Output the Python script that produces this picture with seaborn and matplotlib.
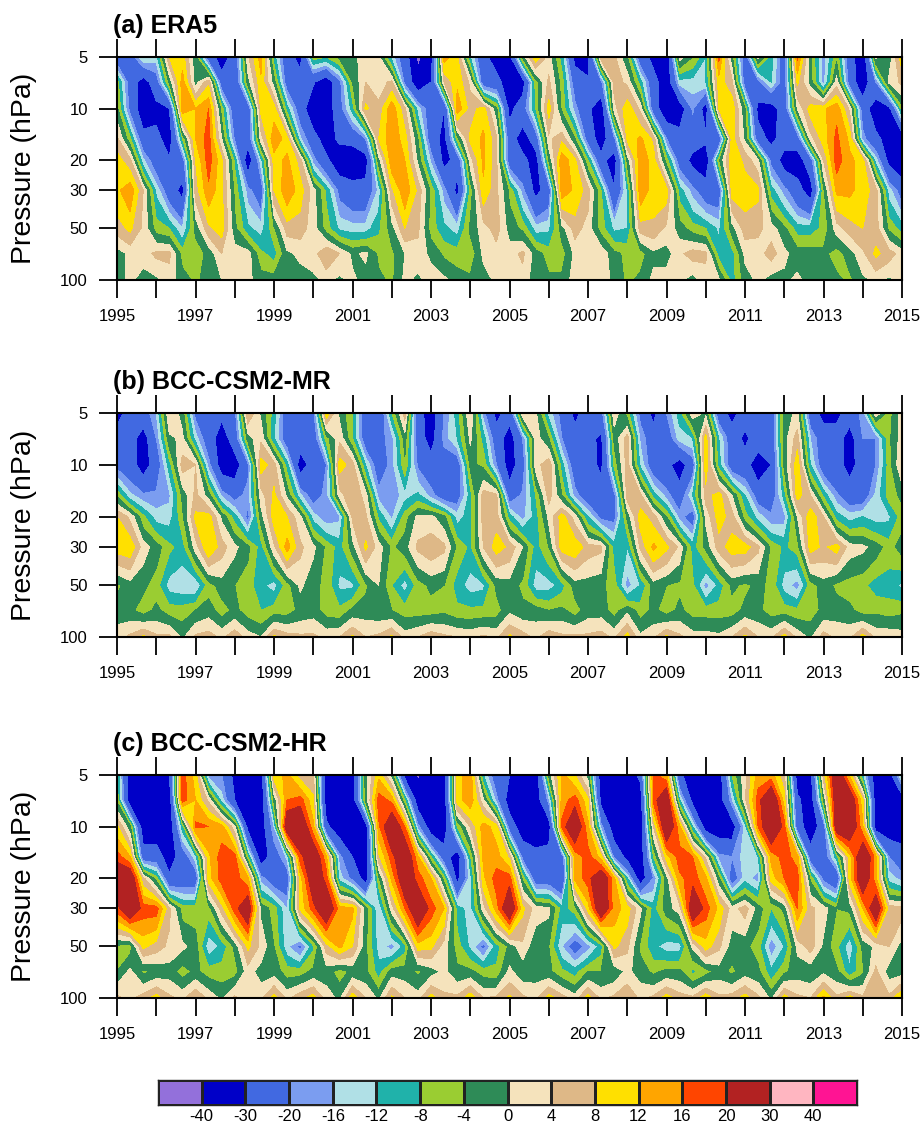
import numpy as np
import matplotlib
matplotlib.use("Agg")
import matplotlib.pyplot as plt
from matplotlib.colors import ListedColormap
import seaborn as sns

pressure = [5, 7, 10, 15, 20, 30, 50, 70, 100]
years = [1995 + i / 3 for i in range(61)]
bounds = [-40, -30, -20, -16, -12, -8, -4, 0, 4, 8, 12, 16, 20, 30, 40]
color_names = ['#9370DB', '#0000C8', '#4169E1', '#7B9DF0', '#B0E0E6', '#20B2AA', '#9ACD32', '#2E8B57',
               '#F5E3BC', '#DEB887', '#FFE000', '#FFA500', '#FF4500', '#B22222', '#FFB6C1', '#FF1493']
titles = ['(a) ERA5', '(b) BCC-CSM2-MR', '(c) BCC-CSM2-HR']

era5_005 = [-25,-24,-12,-14,8,10,-3,-25,-35,-26,3,14,-10,-26,-33,-6,-8,-3,-2,3,1,-14,-25,-42,-35,14,9,-12,-27,-35,
            -33,-3,11,2,-10,-33,-33,7,5,-4,-25,-33,-38,2,-4,-12,17,-3,-25,1,-10,-25,17,-3,-18,-5,-25,-38,1,-3,11]
era5_007 = [-6,-24,-35,-24,-3,14,-2,7,-25,-28,-2,11,-2,-24,-26,-29,-37,-22,-4,4,2,5,-22,-37,-30,4,11,3,-25,-26,
            -37,-35,-6,5,-6,-24,-29,-22,6,3,-10,-26,-37,-14,-14,-12,10,5,-24,-22,-12,-24,9,-2,-18,2,-24,-37,-20,1,5]
era5_010 = [-3,-22,-37,-33,-30,15,12,16,-6,-26,-26,9,10,-10,-25,-37,-37,-23,-10,9,5,15,5,-14,-25,-30,15,6,10,-3,
            -33,-24,-8,10,-5,-18,-28,-37,2,11,3,-25,-37,-37,-19,-35,8,11,-4,-33,-35,-25,0,10,11,15,3,-24,-37,-33,-6]
era5_015 = [5,-7,-26,-27,-35,-8,12,18,0,-21,-26,2,15,10,-15,-26,-35,-28,-27,-20,8,15,10,-4,-25,-33,-6,9,13,5,
            -25,-35,-25,3,7,-4,-24,-35,-22,9,13,7,-20,-25,-25,-28,-27,10,-1,-25,-33,-25,-25,2,10,17,11,-18,-27,-35,-37]
era5_020 = [10,5,-15,-25,-29,-24,8,18,9,-9,-37,-14,10,13,6,-18,-28,-37,-37,-35,-2,15,12,-1,-17,-33,-27,2,13,5,
            -25,-27,-35,-4,15,9,-8,-27,-35,-3,15,10,-6,-24,-33,-37,-5,11,7,1,-22,-35,-35,-24,4,18,13,10,-14,-33,-37]
era5_030 = [11,15,4,-13,-25,-33,6,15,9,-5,-18,-25,8,15,10,2,-9,-22,-26,-26,-15,7,15,7,-5,-18,-33,-7,11,5,
            -5,-18,-33,-25,15,11,6,-8,-29,-12,15,10,10,-10,-18,-25,-25,10,10,9,-10,-18,-26,-35,-5,13,13,10,6,-14,-24]
era5_050 = [6,9,3,-6,-8,-16,-3,7,10,-3,-11,-14,-5,6,6,2,-6,-13,-14,-14,-9,-2,8,5,-6,-11,-14,-3,2,6,
            -2,-5,-14,-13,-2,6,2,-6,-13,-12,6,7,3,-2,-6,-8,-13,-2,6,5,2,-3,-10,-10,-7,2,6,8,6,-5,-10]
era5_070 = [-2,1,2,5,5,-6,-6,-3,4,2,2,-7,-10,-1,1,2,8,4,-1,1,-5,-5,0,2,-1,-5,-6,-7,1,2,
            2,5,-2,-6,-6,1,3,3,-3,-5,-6,-1,-2,3,6,5,-10,-10,1,2,6,1,-2,-2,-3,-6,-2,3,9,6,2]
era5_100 = [-2,1,-2,-1,2,-2,-5,-2,0,2,1,-2,-2,-3,-2,-1,1,-1,1,-2,-3,-5,1,-1,2,1,-2,-3,-2,1,
            1,2,-2,-3,-3,2,1,2,-1,-5,-3,1,2,1,-2,2,1,-10,-2,1,-2,-1,1,-2,-2,-3,-5,-1,1,-1,1]

mr_005 = [-35,-25,-24,-16,4,-2,-22,-25,-28,-22,8,-1,-10,-25,-24,-22,11,-1,-8,-25,-28,-8,6,-26,-35,-20,-10,4,-18,-33,
          -26,3,1,-14,-22,-33,-25,-23,3,-6,-22,-33,-20,-10,3,-1,-25,-33,-26,-20,-25,-2,1,-25,-33,-33,-25,-18,3,-6,2]
mr_007 = [-23,-25,-35,-20,-1,1,-14,-25,-35,-25,-2,3,-12,-25,-25,-25,-6,3,-8,-25,-22,-18,-2,-24,-35,-18,-12,1,-10,-25,
          -35,-20,2,-4,-20,-25,-27,-32,-3,6,-17,-25,-25,-14,-12,10,-12,-25,-32,-25,-25,-2,6,-16,-25,-25,-35,-20,-20,-5,2]
mr_010 = [-22,-25,-35,-25,-10,6,4,-18,-35,-35,-22,10,6,-10,-35,-26,-20,10,6,-12,-25,-18,-5,-21,-25,-25,-25,-3,-5,-20,
          -35,-24,2,7,-10,-25,-26,-32,-7,6,-13,-25,-27,-35,-24,11,-10,-25,-26,-36,-30,-3,11,-12,-25,-27,-33,-26,-20,-6,4]
mr_015 = [-5,-15,-19,-19,-17,-3,5,-2,-17,-23,-18,2,9,-1,-15,-24,-18,2,8,2,-18,-19,-14,-11,-18,-25,-24,-10,6,5,
          -25,-19,-8,6,-4,-18,-25,-25,-22,6,5,-10,-18,-25,-12,6,10,0,-12,-24,-25,-10,10,4,-9,-19,-25,-25,-15,-6,-3]
mr_020 = [8,3,-7,-14,-14,-5,9,10,-1,-10,-22,-2,10,8,1,-14,-19,-17,5,5,-9,-17,-6,1,1,-3,-14,-10,6,6,
          -10,-18,-10,1,10,2,-12,-22,-22,-3,10,6,-4,-18,-24,1,10,6,-6,-14,-19,-18,0,11,4,-10,-14,-12,-14,-13,-6]
mr_030 = [10,11,2,-2,-7,-10,2,12,6,1,-3,-10,3,14,5,1,-5,-10,-2,9,2,-5,-2,5,7,5,-5,-9,4,10,
          7,0,-10,-4,10,11,6,5,-10,-12,5,13,9,3,-10,-3,6,10,10,5,-5,-9,-6,10,7,10,2,1,-2,-6,-2]
mr_050 = [-5,-2,-3,-6,-14,-15,-16,-6,-2,-4,-6,-11,-14,-6,1,-3,-5,-13,-13,-5,0,-8,-14,-6,-3,-4,-10,-14,-13,-3,
          -2,-5,-14,-14,-10,-2,-2,-3,-6,-18,-12,-2,-4,-5,-7,-18,-11,-3,-5,-3,-5,-14,-18,-6,-2,-5,-6,-7,-10,-10,-13]
mr_070 = [-2,-3,-6,-3,-6,-6,-4,-2,-6,-3,-6,-8,-6,-6,-3,-2,-6,-7,-3,-2,-3,-4,-6,-6,-6,-5,-7,-7,-7,-6,
          -1,-3,-2,-4,-3,-6,-2,-2,-6,-1,-6,-3,-6,-3,-6,-6,-6,-6,-3,-3,-6,-6,-7,-6,-3,-2,-3,-6,-5,-6,-5]
mr_100 = [2,5,9,5,5,-1,5,6,3,7,2,0,9,6,5,5,3,4,9,4,5,9,2,4,7,5,4,3,5,3,
          9,6,3,7,5,5,5,6,3,10,1,3,9,5,2,2,1,4,9,4,3,10,3,-1,6,3,3,10,3,3,2]

hr_005 = [-8,-35,-36,-36,-30,18,10,-18,-20,-33,-36,-36,10,13,6,5,-36,-36,-36,-2,11,-2,-33,-41,-36,-36,10,15,-12,-25,
          -30,-36,-36,-3,13,8,-2,-36,-36,-36,-28,17,13,-28,-36,-36,-36,-8,3,14,14,5,-35,-33,6,27,11,-12,-36,-36,-10]
hr_007 = [-5,-36,-36,-36,-36,18,12,3,-14,-30,-36,-36,-3,16,18,9,-36,-36,-36,-3,18,15,-8,-36,-36,-36,10,15,1,-18,
          -35,-36,-36,-18,14,18,9,-33,-36,-36,-36,17,28,-12,-33,-36,-36,-17,3,18,28,10,-28,-36,-4,26,27,9,-36,-36,-36]
hr_010 = [9,-3,-36,-36,-36,-10,17,16,14,1,-33,-36,-16,27,28,13,-28,-36,-36,-36,15,27,16,-18,-36,-36,-8,4,14,10,
          -24,-36,-36,-36,17,27,13,-18,-36,-36,-36,4,28,13,-12,-35,-36,-36,-14,16,28,18,-25,-36,-25,26,27,13,-36,-36,-36]
hr_015 = [18,12,-25,-25,-35,-25,-14,11,18,18,-8,-36,-25,-15,18,27,13,-18,-30,-36,7,18,27,13,-8,-25,-36,-9,13,14,
          7,-22,-27,-25,-25,13,18,10,-22,-33,-36,-8,10,18,16,3,-18,-20,-14,-12,13,18,14,-25,-25,-10,10,28,14,-20,-25]
hr_020 = [27,27,5,-6,-28,-25,-25,10,18,18,13,-18,-25,-25,10,26,18,-14,-22,-35,-5,13,26,18,12,-6,-33,-14,11,18,
          18,-5,-25,-25,-30,13,18,27,13,-12,-36,-20,-2,15,18,13,-3,-25,-14,-18,10,16,18,-5,-22,-28,10,27,13,-14,-18]
hr_030 = [18,27,18,18,5,-6,-6,-6,6,18,26,-1,-6,-16,9,18,27,14,13,-2,-16,2,16,27,18,12,-10,-14,2,14,
          27,9,2,1,-10,-6,10,27,14,10,1,-10,-2,2,27,18,11,2,6,-2,-8,-3,16,5,2,-4,-3,12,27,6,6]
hr_050 = [-5,-6,9,6,3,1,-2,-15,-11,-3,9,3,-4,-15,-22,-9,6,13,8,-3,-14,-18,-10,10,9,2,-6,-13,-22,-10,
          -3,3,-3,-4,-16,-24,-18,-10,9,5,-5,-11,-14,-14,1,10,5,-2,-3,-6,-19,-12,1,6,-1,-7,-15,-3,1,4,-2]
hr_070 = [-4,1,-5,-3,-2,-6,-3,-6,-6,-6,2,-2,-2,-6,-6,-3,-2,-6,-3,-3,-10,-2,-2,-5,-2,1,-3,-3,-6,-7,
          1,-3,-2,-3,-7,-10,-4,-4,-3,1,-2,-5,-3,-3,-9,-6,-2,-5,-2,-3,-11,-5,-2,-3,-1,-3,-11,-5,5,-2,-2]
hr_100 = [5,3,6,10,5,3,8,3,-1,5,2,3,10,3,7,10,2,-1,11,4,-1,9,4,2,10,5,5,11,4,5,
          9,5,3,10,6,2,10,3,5,8,3,5,10,6,5,11,5,6,10,5,-1,10,5,4,13,5,10,5,6,5,13]

panels = [
    [era5_005, era5_007, era5_010, era5_015, era5_020, era5_030, era5_050, era5_070, era5_100],
    [mr_005, mr_007, mr_010, mr_015, mr_020, mr_030, mr_050, mr_070, mr_100],
    [hr_005, hr_007, hr_010, hr_015, hr_020, hr_030, hr_050, hr_070, hr_100],
]
for pi, rows in enumerate(panels):
    for ri, r in enumerate(rows):
        if len(r) != len(years):
            raise SystemExit(f"panel {pi} row {ri} has {len(r)}")

sns.set_style("ticks")
plt.rcParams['font.family'] = ['Liberation Sans', 'DejaVu Sans']
plt.rcParams.update({'text.color': 'black', 'axes.labelcolor': 'black',
                     'xtick.color': 'black', 'ytick.color': 'black'})
palette = sns.color_palette(color_names)

W, H = 924, 1126
fig = plt.figure(figsize=(W / 100, H / 100), dpi=100)
tops = [57, 413, 775]
bottoms = [280, 637, 998]
xl, xr = 117, 902

for rows, title, t, b in zip(panels, titles, tops, bottoms):
    ax = fig.add_axes([xl / W, 1 - b / H, (xr - xl) / W, (b - t) / H])
    X, Y = np.meshgrid(years, pressure)
    ax.contourf(X, Y, np.array(rows, dtype=float), levels=[-200] + bounds + [200], colors=palette)
    ax.set_yscale('log')
    ax.set_ylim(100, 5)
    ax.set_xlim(1995, 2015)
    ax.set_yticks([5, 10, 20, 30, 50, 100])
    ax.set_yticklabels(['5', '10', '20', '30', '50', '100'], fontsize=12)
    ax.minorticks_off()
    ax.set_xticks(range(1995, 2016))
    ax.set_xticklabels([str(y) if (y - 1995) % 2 == 0 else '' for y in range(1995, 2016)], fontsize=12)
    ax.tick_params(axis='x', which='major', direction='out', length=13, width=1.3, top=True, bottom=True, pad=8)
    ax.tick_params(axis='y', which='major', direction='out', length=13, width=1.3, left=True, right=False, pad=8)
    for s in ax.spines.values():
        s.set_linewidth(1.5)
        s.set_color('black')
    ax.set_ylabel('Pressure (hPa)', fontsize=20.5)
    ax.yaxis.set_label_coords(-0.102, 0.5)
    ax.text(-0.005, 1 + 24 / (b - t), title, transform=ax.transAxes, fontsize=18, fontweight='bold',
            ha='left', va='baseline')

cax = fig.add_axes([158 / W, 1 - 1105 / H, (857 - 158) / W, 25 / H])
strip = np.arange(16).reshape(1, 16)
sns.heatmap(strip, ax=cax, cmap=ListedColormap(list(palette)), cbar=False, linewidths=0.8, linecolor='#222222',
            xticklabels=False, yticklabels=False)
cax.set_xticks(range(1, 16))
cax.set_xticklabels([str(v) for v in bounds], fontsize=12)
cax.tick_params(axis='x', length=0, pad=3)
for s in cax.spines.values():
    s.set_visible(True)
    s.set_linewidth(1.0)
    s.set_color('#222222')

fig.savefig('out.png', dpi=100)
